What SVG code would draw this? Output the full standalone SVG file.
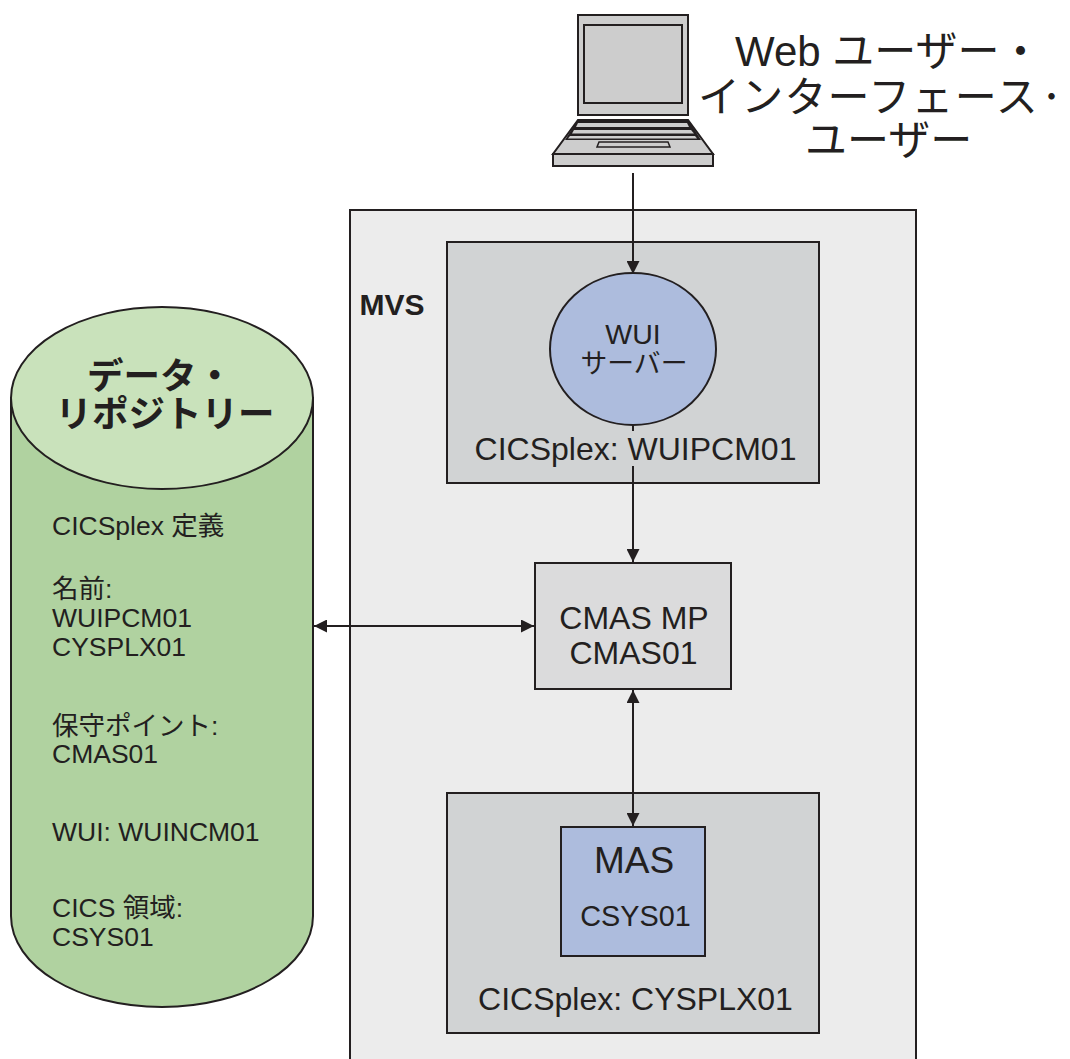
<svg xmlns="http://www.w3.org/2000/svg" width="1070" height="1059" viewBox="0 0 1070 1059">
<style>
text{font-family:"Liberation Sans","Noto Sans CJK JP",sans-serif;fill:#231f20;text-anchor:middle}
.b{stroke:#231f20;stroke-width:2}
.l{font-size:26.5px;text-anchor:start}
.u{font-size:42px;text-anchor:start}
.c{stroke:#231f20;stroke-width:2;fill:none}
.ah{fill:#231f20}
.lap{fill:#cdcdcd;stroke:#231f20;stroke-width:2}
.k{fill:#cdcdcd}
</style>
<defs>
<marker id="a" markerUnits="userSpaceOnUse" markerWidth="14" markerHeight="13" refX="13" refY="6.5" orient="auto-start-reverse"><path class="ah" d="M0 0L13 6.5L0 13Z"/></marker>
</defs>
<rect width="1070" height="1059" fill="#fff"/>
<g id="mvs"><path d="M350 1059V210H916V1059" fill="#ececec" stroke="#231f20" stroke-width="2"/><text x="392" y="315" font-size="30" font-weight="700">MVS</text></g>
<g id="laptop">
<rect class="lap" x="578" y="15" width="110" height="100"/>
<rect class="lap" x="584" y="25" width="98" height="78"/>
<path class="lap" d="M578 120H688L713 154H553Z"/>
<path d="M577 121H689L701 140H565Z" fill="#231f20"/>
<path class="k" d="M578 123H687L689 127H576Z"/>
<path class="k" d="M574 130H691L694 133.5H572Z"/>
<path class="k" d="M570 136H695L697 138.5H568Z"/>
<path d="M599 142H668L670 147H597Z" fill="#cdcdcd" stroke="#231f20" stroke-width="1.5"/>
<rect class="lap" x="553" y="154" width="160" height="12"/>
</g>
<g id="user-label"><text class="u" x="735" y="66">Web ユーザー・</text><text class="u" x="698" y="112" letter-spacing="1.2">インターフェース<tspan font-size="25" font-weight="700" letter-spacing="0" dy="-6">・</tspan></text><text class="u" x="805" y="155">ユーザー</text></g>
<g id="wui-plex"><rect class="b" x="447" y="242" width="372" height="241" fill="#d1d3d4"/><text x="635.5" y="460" font-size="32">CICSplex: WUIPCM01</text></g>
<g id="wui-server"><ellipse class="b" cx="633" cy="349" rx="83" ry="76" fill="#adbcdd"/><text x="633" y="344" font-size="28.5">WUI</text><text x="634" y="373" font-size="26.8">サーバー</text></g>
<g id="cmas"><rect class="b" x="535" y="563" width="196" height="126" fill="#dbdbdc"/><text x="634" y="629" font-size="32">CMAS MP</text><text x="633.5" y="664" font-size="32">CMAS01</text></g>
<g id="mas-plex"><rect class="b" x="447" y="793" width="372" height="240" fill="#d1d3d4"/><text x="635.5" y="1010" font-size="32">CICSplex: CYSPLX01</text></g>
<g id="mas"><rect class="b" x="561" y="827" width="144" height="129" fill="#adbcdd"/><text x="634" y="873" font-size="37">MAS</text><text x="635.5" y="926" font-size="28.8">CSYS01</text></g>
<g id="repository">
<path d="M11 398V916C11 966 78 1007 162 1007S313 966 313 916V398Z" fill="#b0d2a0" stroke="#231f20" stroke-width="2"/>
<ellipse cx="162" cy="398" rx="151" ry="91" fill="#c9e2bb" stroke="#231f20" stroke-width="2"/>
<text x="160" y="389" font-size="36.5" font-weight="700">データ・</text><text x="165" y="427" font-size="36.5" font-weight="700">リポジトリー</text>
<text class="l" x="52" y="535">CICSplex 定義</text>
<text class="l" x="52" y="598">名前:</text><text class="l" x="52" y="627">WUIPCM01</text><text class="l" x="52" y="656">CYSPLX01</text>
<text class="l" x="52" y="735">保守ポイント:</text><text class="l" x="52" y="763">CMAS01</text>
<text class="l" x="52" y="841">WUI: WUINCM01</text>
<text class="l" x="52" y="917">CICS 領域:</text><text class="l" x="52" y="946">CSYS01</text>
</g>
<g id="connectors">
<path class="c" d="M633 173V274" marker-end="url(#a)"/>
<path class="c" d="M633 425V431"/>
<path class="c" d="M633 466V562" marker-end="url(#a)"/>
<path class="c" d="M314 626H534" marker-start="url(#a)" marker-end="url(#a)"/>
<path class="c" d="M633 690V826" marker-start="url(#a)" marker-end="url(#a)"/>
</g>
</svg>
